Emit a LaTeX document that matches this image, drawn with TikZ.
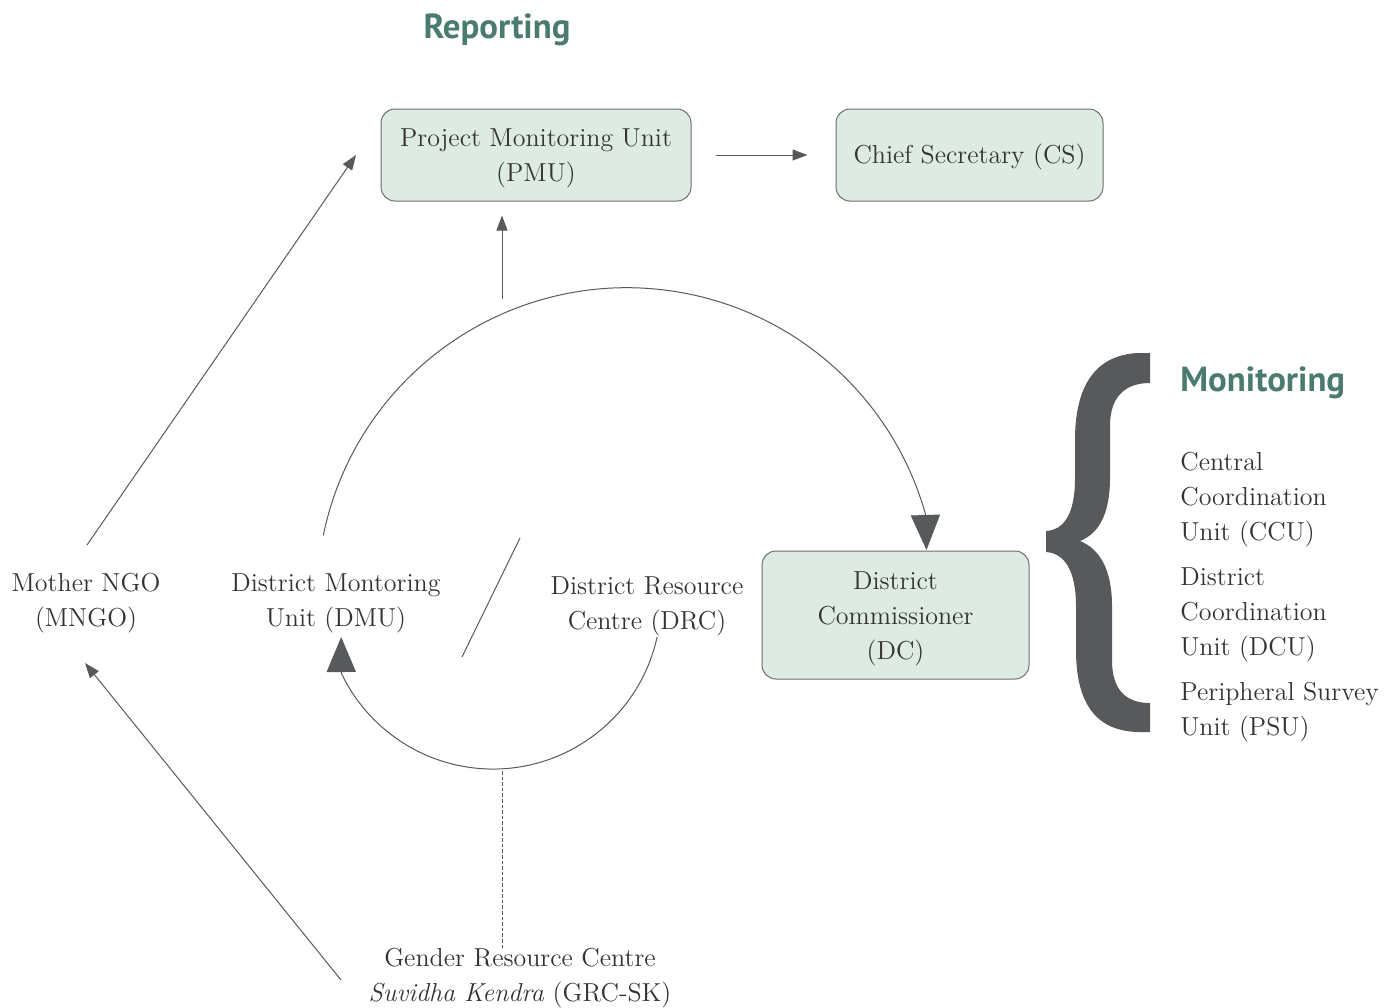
\documentclass[tikz,border=0pt]{standalone}
\usepackage{fontspec}
\newfontfamily\headfont{PT Sans}
\usetikzlibrary{arrows.meta}
\definecolor{ink}{HTML}{333334}
\definecolor{linegray}{HTML}{58595B}
\definecolor{boxfill}{HTML}{DDEBE3}
\definecolor{boxline}{HTML}{6D6E70}
\definecolor{headteal}{HTML}{4A7B6E}
% strut that lowers a box label by raising its first line's height
\newcommand{\lowerby}[1]{\rule{0pt}{#1}}
\begin{document}
\begin{tikzpicture}[x=0.5pt,y=-0.5pt,
  lbl/.style={text=ink, font=\fontsize{13}{17.5}\selectfont, align=center, inner sep=0pt},
  listlbl/.style={lbl, align=left, anchor=west},
  box/.style={lbl, draw=boxline, fill=boxfill, rounded corners=7pt, line width=0.5pt},
  head/.style={text=headteal, font=\headfont\bfseries\fontsize{17.4}{20}\selectfont, inner sep=0pt},
  conn/.style={draw=linegray, line width=0.5pt},
  tip/.style={conn, -{Triangle[length=7.5pt,width=5.5pt]}},
  bigtip/.style={conn, -{Triangle[length=17.5pt,width=14.6pt]}},
]
\useasboundingbox (0,0) rectangle (1389,1008);

% headings
\node[head] (rep) at (497,30) {Reporting};
\node[head, anchor=west] (mon) at (1180,383) {Monitoring};

% boxes
\node[box, minimum width=155pt, minimum height=46pt] (pmu) at (536,155) {\lowerby{12pt}Project Monitoring Unit\\(PMU)};
\node[box, minimum width=133.5pt, minimum height=46pt] (cs) at (969.5,155) {\lowerby{11.75pt}Chief Secretary (CS)};
\node[box, minimum width=133.5pt, minimum height=64pt] (dc) at (895.5,615) {\lowerby{13pt}District\\Commissioner\\(DC)};

% free labels
\node[lbl] (mngo) at (86,603) {Mother NGO\\(MNGO)};
\node[lbl] (dmu) at (336,603) {District Montoring\\Unit (DMU)};
\node[lbl] (drc) at (647,606) {District Resource\\Centre (DRC)};
\node[lbl] (grc) at (520,978) {Gender Resource Centre\\\textit{Suvidha Kendra} (GRC-SK)};

% monitoring units
\node[listlbl] (ccu) at (1180,500) {Central\\Coordination\\Unit (CCU)};
\node[listlbl] (dcu) at (1180,615) {District\\Coordination\\Unit (DCU)};
\node[listlbl] (psu) at (1180,712) {Peripheral Survey\\Unit (PSU)};

% brace
\fill[linegray] (1150,353) -- (1138,353)
  .. controls (1096,355) and (1075,385) .. (1075,440) -- (1075,478)
  .. controls (1075,514) and (1064,530) .. (1046,531) -- (1046,552)
  .. controls (1064,553) and (1076,570) .. (1076,606) -- (1076,650)
  .. controls (1076,706) and (1098,731) .. (1138,732) -- (1150,732) -- (1150,703)
  .. controls (1126,703) and (1112,690) .. (1112,660) -- (1112,606)
  .. controls (1112,570) and (1100,549) .. (1080,541)
  .. controls (1100,533) and (1110,512) .. (1110,478) -- (1110,426)
  .. controls (1110,398) and (1124,383) .. (1150,383) -- cycle;

% connector end points
\coordinate (arcL) at (323.3,535.4);
\coordinate (arcTap) at (502,299);
\coordinate (dcIn) at (926.5,550);
\coordinate (drcOut) at (657.1,637.1);
\coordinate (dmuIn) at (341.2,637);
\coordinate (arcBot) at (502,771);
\coordinate (mngoUp) at (87,545);
\coordinate (pmuIn) at (356,155);
\coordinate (grcOut) at (341,980);
\coordinate (mngoIn) at (85,663);
\coordinate (slashA) at (520,538);
\coordinate (slashB) at (462,657);

% reporting arrows
\draw[tip, shorten <=12pt, shorten >=14pt] (pmu.east) -- (cs.west);
\draw[tip, shorten >=7pt] (arcTap) -- (arcTap |- pmu.south);
\draw[tip] (mngoUp) -- (pmuIn);
\draw[tip] (grcOut) -- (mngoIn);

% upper loop DMU -> DC (circular arc, centre (627,597))
\draw[bigtip] (arcL) arc[start angle=-168.4, end angle=-15.7, radius=310] -- (dcIn);

% lower loop DRC -> DMU (circular arc, centre (493,601))
\draw[bigtip] (drcOut) arc[start angle=12.4, end angle=154.6, radius=168] -- (dmuIn);

% separator and dashed link
\draw[conn] (slashA) -- (slashB);
\draw[conn, dash pattern=on 1.8pt off 1pt] (arcBot) -- (arcBot |- grc.north);
\end{tikzpicture}
\end{document}
